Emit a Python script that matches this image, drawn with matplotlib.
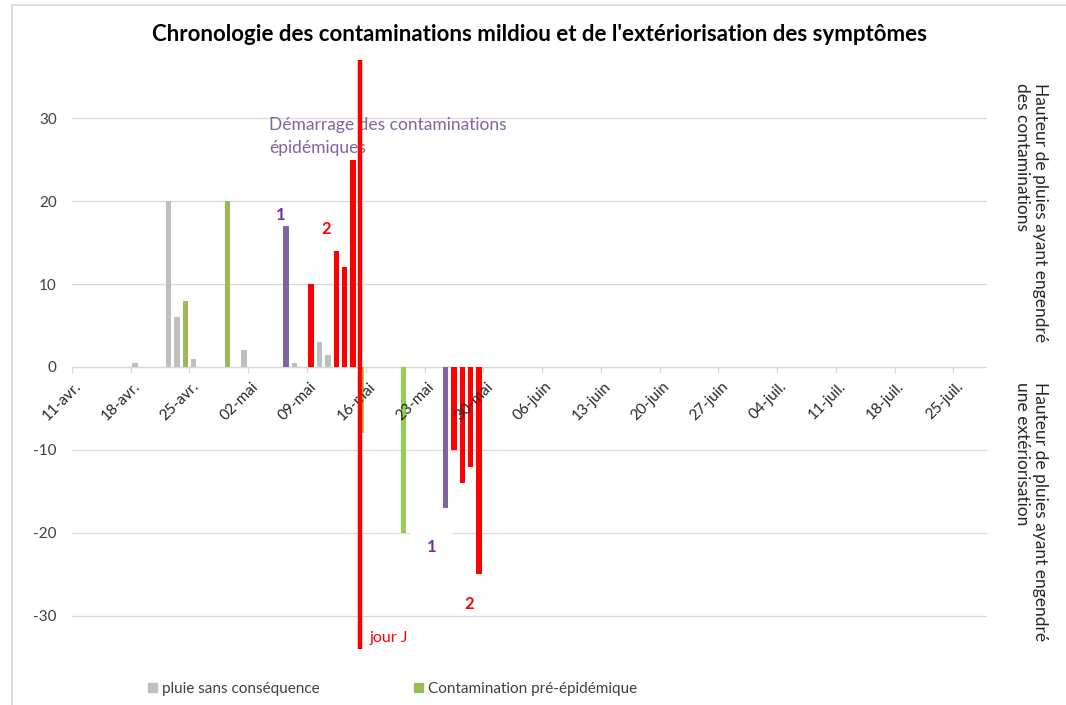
import numpy as np
import pandas as pd
import matplotlib
matplotlib.use('Agg')
import matplotlib.pyplot as plt
import matplotlib.dates as mdates
from matplotlib.patches import Patch

plt.rcParams['font.family'] = ['Lato', 'DejaVu Sans']
plt.rcParams['axes.unicode_minus'] = False

#######################################################################
# data (mm de pluie)
#######################################################################
gray_dates = ['2021-04-18', '2021-04-22', '2021-04-23', '2021-04-25',
              '2021-05-01', '2021-05-07', '2021-05-10', '2021-05-11']
gray_vals = [0.5, 20, 6, 1, 2, 0.5, 3, 1.5]

green_dates = ['2021-04-24', '2021-04-29']
green_vals = [8, 20]

green2_dates = ['2021-05-15', '2021-05-20']
green2_vals = [-8, -20]

purple_dates = ['2021-05-06', '2021-05-25']
purple_vals = [17, -17]

red_dates = ['2021-05-09', '2021-05-12', '2021-05-13', '2021-05-14',
             '2021-05-26', '2021-05-27', '2021-05-28', '2021-05-29']
red_vals = [10, 14, 12, 25, -10, -14, -12, -25]

jour_j = '2021-05-15'
jour_j_span = [-34, 37]

tick_dates = pd.date_range('2021-04-11', periods=16, freq='7D')
tick_labels = ['11-avr.', '18-avr.', '25-avr.', '02-mai', '09-mai', '16-mai',
               '23-mai', '30-mai', '06-juin', '13-juin', '20-juin', '27-juin',
               '04-juil.', '11-juil.', '18-juil.', '25-juil.']

c_gray = '#BFBFBF'
c_green = '#9BBB59'
c_green2 = '#92D050'
c_purple = '#8064A2'
c_red = '#FF0000'

def xpos(d):
    # bars sit in the middle of the day slot
    return mdates.date2num(pd.to_datetime(d)) + 0.5

fig = plt.figure(figsize=(10.66, 7.05), dpi=100)
ax = fig.add_axes([0.0675, 0.0792, 0.8583, 0.8358])

w = 0.65
ax.bar(xpos(gray_dates), gray_vals, width=w, color=c_gray, zorder=3)
ax.bar(xpos(green_dates), green_vals, width=w, color=c_green, zorder=3)
ax.bar(xpos(green2_dates), green2_vals, width=w, color=c_green2, zorder=3)
ax.bar(xpos(purple_dates), purple_vals, width=w, color=c_purple, zorder=3)
ax.bar(xpos(red_dates), red_vals, width=w, color=c_red, zorder=3)

xj = mdates.date2num(pd.to_datetime(jour_j)) + 0.3
ax.plot([xj, xj], jour_j_span, color=c_red, lw=3.2, zorder=4, clip_on=False,
        solid_capstyle='butt')

x0 = mdates.date2num(tick_dates[0])
ax.set_xlim(x0, x0 + 109)
ax.set_ylim(-34, 37)
ax.set_yticks([-30, -20, -10, 0, 10, 20, 30])
ax.set_xticks(mdates.date2num(tick_dates))
ax.set_xticklabels([])

for s in ax.spines.values():
    s.set_visible(False)
ax.yaxis.grid(True, color='#D9D9D9', lw=0.9, zorder=0)
ax.axhline(0, color='#D9D9D9', lw=0.9, zorder=1)
ax.tick_params(axis='y', length=0, pad=11, labelsize=11, labelcolor='#404040')
ax.tick_params(axis='x', length=0)

# small ticks under the zero line + rotated labels
for t, lab in zip(mdates.date2num(tick_dates), tick_labels):
    ax.plot([t, t], [0, -0.6], color='#D9D9D9', lw=0.9, zorder=1)
    ax.text(t + 0.3, -1.5, lab, rotation=45, ha='right', va='top',
            rotation_mode='anchor', fontsize=11, color='#262626', zorder=3.5)

fig.text(0.506, 0.951, "Chronologie des contaminations mildiou et de l'extériorisation des symptômes",
         ha='center', va='center', fontsize=16, fontweight='bold', color='black')

ax.text(x0 + 23.5, 27.8, 'Démarrage des contaminations\népidémiques',
        color=c_purple, fontsize=12.5, ha='left', va='center', linespacing=1.55, zorder=2)
ax.text(x0 + 24.9, 18.3, '1', color='#7030A0', fontsize=12, fontweight='bold',
        ha='center', va='center')
ax.text(x0 + 30.3, 16.6, '2', color=c_red, fontsize=12, fontweight='bold',
        ha='center', va='center')
ax.text(x0 + 42.8, -21.7, '1', color='#7030A0', fontsize=12, fontweight='bold',
        ha='center', va='center',
        bbox=dict(boxstyle='square,pad=1.0', fc='white', ec='none'))
ax.text(x0 + 47.3, -28.6, '2', color=c_red, fontsize=12, fontweight='bold',
        ha='center', va='center')
ax.text(x0 + 35.4, -32.7, 'jour J', color=c_red, fontsize=11.5,
        ha='left', va='center')

fig.text(0.967, 0.699, 'Hauteur de pluies ayant engendré\ndes contaminations',
         rotation=270, ha='center', va='center', multialignment='left',
         fontsize=12.5, color='#262626', linespacing=1.2)
fig.text(0.967, 0.274, 'Hauteur de pluies ayant engendré\nune extériorisation',
         rotation=270, ha='center', va='center', multialignment='left',
         fontsize=12.5, color='#262626', linespacing=1.2)

handles = [Patch(color=c_gray), Patch(color=c_green)]
fig.legend(handles, ['pluie sans conséquence', 'Contamination pré-épidémique'],
           loc='center left', bbox_to_anchor=(0.126, 0.0227), ncol=2,
           frameon=False, fontsize=11, handlelength=0.6, handleheight=0.6,
           handletextpad=0.3, columnspacing=6.2, labelcolor='#404040')

# chart border
fig.add_artist(plt.Rectangle((12 / 1066, -0.01), 1.1, 1 - 5 / 705 + 0.01,
                             transform=fig.transFigure, fill=False,
                             ec='#D9D9D9', lw=1.2))

fig.savefig('out.png', dpi=100)
